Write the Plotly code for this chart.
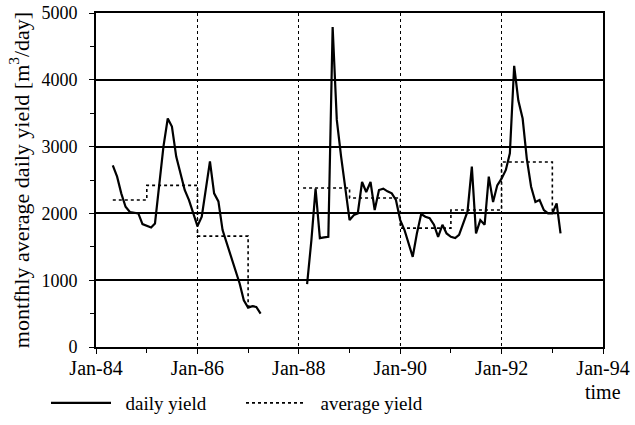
import plotly.graph_objects as go
import pandas as pd

# monthly average daily yield (None = no data)
daily_months = pd.date_range('1984-05-01', '1987-04-01', freq='MS').strftime('%Y-%m-%d').tolist() \
    + [None] \
    + pd.date_range('1988-03-01', '1993-03-01', freq='MS').strftime('%Y-%m-%d').tolist()

daily_84_87 = [2720, 2550, 2300, 2100, 2020, 2010, 2000, 1840, 1810, 1790,
               1850, 2400, 3000, 3420, 3300, 2850, 2600, 2350, 2200, 2000,
               1810, 1950, 2350, 2780, 2300, 2180, 1750, 1550, 1380, 1150,
               950, 700, 590, 610, 600, 500]
daily_88_93 = [940, 1600, 2370, 1630, 1640, 1650, 4790, 3400, 2850, 2400,
               1900, 1975, 2000, 2470, 2320, 2470, 2050, 2350, 2370, 2330,
               2300, 2200, 1900, 1750, 1550, 1350, 1700, 1990, 1950, 1930,
               1830, 1650, 1830, 1700, 1650, 1630, 1680, 1850, 2030, 2700,
               1700, 1900, 1830, 2550, 2170, 2420, 2520, 2650, 2900, 4210,
               3690, 3420, 2820, 2400, 2170, 2200, 2050, 2000, 2000, 2150,
               1700]
daily_values = daily_84_87 + [None] + daily_88_93

# yearly averages (step line)
avg_dates = ['1984-05-01', '1985-01-01', '1986-01-01', '1987-01-01', '1987-02-15', None,
             '1988-02-01', '1989-01-01', '1990-01-01', '1991-01-01', '1992-01-01',
             '1993-01-01', '1993-02-15']
avg_values = [2200, 2420, 1660, 610, 610, None,
              2380, 2230, 1780, 2050, 2770, 2000, 2000]

FONT = 'Liberation Serif, Times New Roman, serif'
GAP = '\u00a0\u00a0'

fig = go.Figure()

fig.add_trace(go.Scatter(
    x=daily_months, y=daily_values,
    mode='lines', name=GAP + 'daily yield',
    line=dict(color='black', width=2.2),
    connectgaps=False
))

fig.add_trace(go.Scatter(
    x=avg_dates, y=avg_values,
    mode='lines', name=GAP + 'average yield',
    line=dict(color='black', width=1.6, dash='dot', shape='hv'),
    connectgaps=False
))

fig.update_layout(
    width=635, height=425,
    margin=dict(l=96, r=32, t=13, b=78, autoexpand=False),
    paper_bgcolor='white',
    plot_bgcolor='white',
    font=dict(family=FONT, size=18, color='black'),
    showlegend=True,
    legend=dict(
        orientation='h',
        xref='container', x=46 / 635, xanchor='left',
        yref='container', y=22 / 425, yanchor='middle',
        font=dict(family=FONT, size=19),
        itemwidth=60,
        entrywidth=120,
        bgcolor='rgba(0,0,0,0)'
    ),
    xaxis=dict(
        type='date',
        range=['1984-01-01', '1994-01-01'],
        tick0='1984-01-01', dtick='M24',
        tickformat='%b-%y',
        showgrid=True, gridcolor='black', gridwidth=1, griddash='dot',
        showline=True, linecolor='black', linewidth=2, mirror=True,
        ticks='outside', ticklen=5, tickcolor='black',
        minor=dict(dtick='M12', tick0='1984-01-01', ticks='outside', ticklen=4,
                   tickcolor='black', showgrid=False),
        zeroline=False,
        ticklabelstandoff=-3,
        tickfont=dict(family=FONT, size=20)
    ),
    yaxis=dict(
        range=[0, 5000],
        dtick=1000,
        showgrid=True, gridcolor='black', gridwidth=1.8,
        showline=True, linecolor='black', linewidth=2, mirror=True,
        ticks='outside', ticklen=5, tickcolor='black',
        minor=dict(dtick=500, ticks='outside', ticklen=4, tickcolor='black', showgrid=False),
        zeroline=False,
        ticklabelstandoff=8,
        title=dict(text='montfhly average daily yield [m<sup>3</sup>/day]',
                   font=dict(family=FONT, size=22), standoff=6),
        tickfont=dict(family=FONT, size=18)
    )
)

fig.add_annotation(
    text='time', xref='paper', yref='paper',
    x=1.0, y=-0.135, xanchor='center', yanchor='middle',
    showarrow=False, font=dict(family=FONT, size=20)
)

# drop the browser's default 8px body margin so the figure fills the window
fig.write_html('out.html', config={'displayModeBar': False},
               post_script="document.body.style.margin='0px';")
